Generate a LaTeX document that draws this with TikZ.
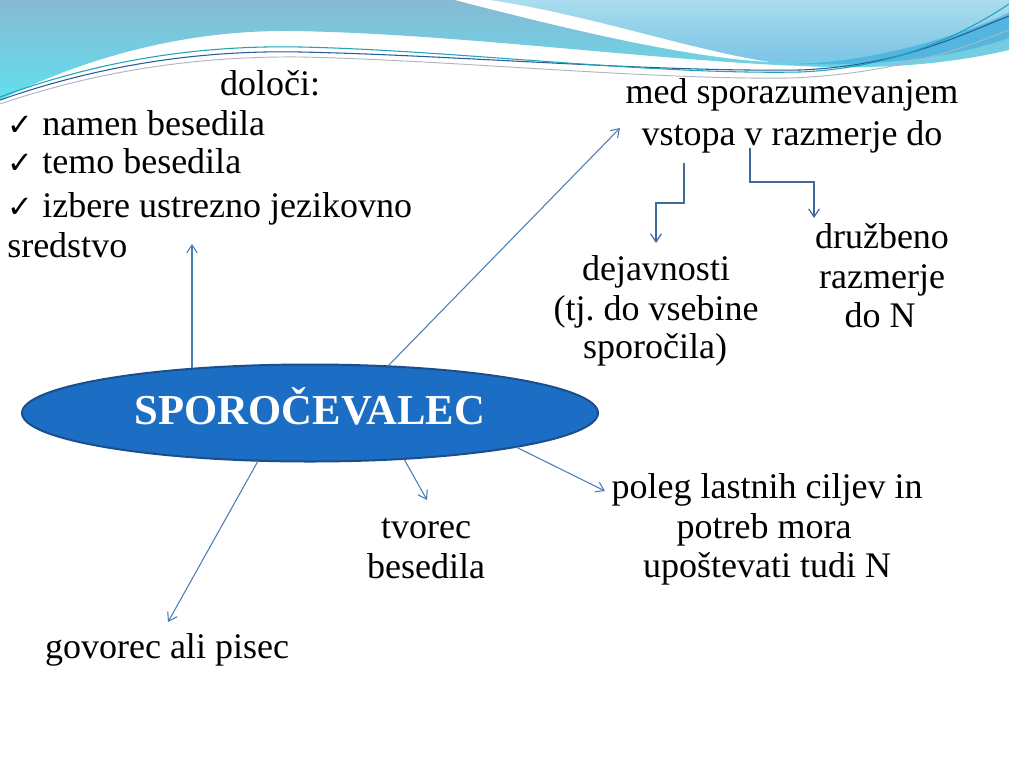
\documentclass[tikz,border=0pt]{standalone}
\usepackage{fontspec}
\setmainfont{Liberation Serif}
\newfontfamily\checkfont{DejaVu Sans}
\usetikzlibrary{arrows.meta,shapes.geometric}
\frenchspacing
\definecolor{arrowblue}{HTML}{4A7EBB}
\definecolor{elbowblue}{HTML}{3F6A9A}
\definecolor{ellfill}{HTML}{1C6DC4}
\definecolor{elldraw}{HTML}{1B4F8C}
\definecolor{waveA}{HTML}{86BAD3}
\definecolor{waveB}{HTML}{62DFEE}
\definecolor{waveC}{HTML}{A9DDEE}
\definecolor{waveD}{HTML}{7CC4E6}
\definecolor{waveE}{HTML}{52B6E0}
\definecolor{lineteal}{HTML}{1FA5B5}
\definecolor{linenavy}{HTML}{2A5C9A}
\definecolor{linegray}{HTML}{AEB6BE}
\begin{document}
\begin{tikzpicture}[x=0.75pt,y=-0.75pt,
  txt/.style={font=\fontsize{27}{30}\selectfont, inner sep=0pt, anchor=base},
  txtl/.style={txt, anchor=base west},
  chk/.style={font=\checkfont\fontsize{23}{26}\selectfont, inner sep=0pt, anchor=base west},
  conn/.style={draw=arrowblue, line width=0.8pt, -{Straight Barb[length=6pt,width=8pt]}},
  elbow/.style={draw=elbowblue, line width=0.9pt, -{Straight Barb[length=6pt,width=8pt]}},
  bigell/.style={ellipse, draw=elldraw, line width=1.5pt, fill=ellfill, inner sep=0pt,
    minimum width=432pt, minimum height=72.75pt, text=white,
    font=\bfseries\fontsize{32}{34}\selectfont, text height=22pt, text depth=5.3pt}]
\useasboundingbox (0,0) rectangle (1009,761);
\fill[white] (0,0) rectangle (1009,761);
% --- decorative wave at the top ---
\shade[top color=waveA, bottom color=waveB]
  (0,0) -- (1009,0) -- (1009,50) .. controls (950,64) and (880,70) .. (800,66)
  .. controls (650,60) and (450,33) .. (290,31) .. controls (180,30) and (80,60) .. (0,100) -- cycle;
\shade[top color=waveC, bottom color=waveD]
  (490,0) -- (1009,0) -- (1009,12) .. controls (950,40) and (870,62) .. (770,62)
  .. controls (690,50) and (590,15) .. (490,0) -- cycle;
\fill[white] (455,0) -- (490,0) .. controls (590,15) and (690,50) .. (770,62)
  .. controls (690,58) and (570,30) .. (455,0) -- cycle;
\fill[waveE] (790,64) .. controls (880,62) and (960,35) .. (1009,14) -- (1009,38)
  .. controls (960,55) and (890,67) .. (790,64) -- cycle;
\draw[linegray, line width=0.7pt] (0,104) .. controls (100,70) and (200,56) .. (300,57)
  .. controls (450,60) and (650,80) .. (790,78) .. controls (900,74) and (970,45) .. (1009,30);
\draw[linenavy, line width=0.8pt] (0,100) .. controls (100,65) and (200,50) .. (300,52)
  .. controls (450,55) and (650,72) .. (800,70) .. controls (900,66) and (960,35) .. (1009,16);
\draw[lineteal, line width=0.8pt] (0,97) .. controls (100,60) and (200,45) .. (300,47)
  .. controls (450,50) and (650,75) .. (800,72) .. controls (900,68) and (970,30) .. (1009,4);
% --- central ellipse ---
\node[bigell] (ell) at (310,413) {SPOROČEVALEC};
% --- texts ---
\node[txt] (doloci) at (270,95) {določi:};
\node[chk] (c1) at (7,135) {✓};
\node[txtl] (namen) at (42,135) {namen besedila};
\node[chk] (c2) at (7,173) {✓};
\node[txtl] (temo) at (42,173) {temo besedila};
\node[chk] (c3) at (7,217) {✓};
\node[txtl] (izbere) at (42,217) {izbere ustrezno jezikovno};
\node[txtl] (sredstvo) at (7,257) {sredstvo};
\node[txt] (med) at (792,103) {med sporazumevanjem};
\node[txt] (vstopa) at (792,145) {vstopa v razmerje do};
\node[txt] (dej1) at (656,280) {dejavnosti};
\node[txt] (dej2) at (656,320) {(tj. do vsebine};
\node[txt] (dej3) at (655,358) {sporočila)};
\node[txt] (dru1) at (882,248) {družbeno};
\node[txt] (dru2) at (882,288) {razmerje};
\node[txt] (dru3) at (880,327) {do N};
\node[txt] (tvo1) at (426,538) {tvorec};
\node[txt] (tvo2) at (426,578) {besedila};
\node[txt] (pol1) at (767,498) {poleg lastnih ciljev in};
\node[txt] (pol2) at (764,538) {potreb mora};
\node[txt] (pol3) at (767,577) {upoštevati tudi N};
\node[txt] (gov) at (167,658) {govorec ali pisec};
% --- connector end points ---
\coordinate (e1) at (192,368); \coordinate (t1) at (192,244);
\coordinate (e2) at (388,366); \coordinate (t2) at (620,128);
\coordinate (s3) at (684,163); \coordinate (t3) at (656,243);
\coordinate (s4) at (750,148); \coordinate (t4) at (814,218);
\coordinate (e5) at (258,461); \coordinate (t5) at (168,622);
\coordinate (e6) at (404,459); \coordinate (t6) at (427,500);
\coordinate (e7) at (516,447); \coordinate (t7) at (605,491);
% --- connectors ---
\draw[conn] (e1) -- (t1);
\draw[conn] (e2) -- (t2);
\draw[elbow] (s3) -- ++(0,40) -| (t3);
\draw[elbow] (s4) -- ++(0,34) -| (t4);
\draw[conn] (e5) -- (t5);
\draw[conn] (e6) -- (t6);
\draw[conn] (e7) -- (t7);
\end{tikzpicture}
\end{document}
